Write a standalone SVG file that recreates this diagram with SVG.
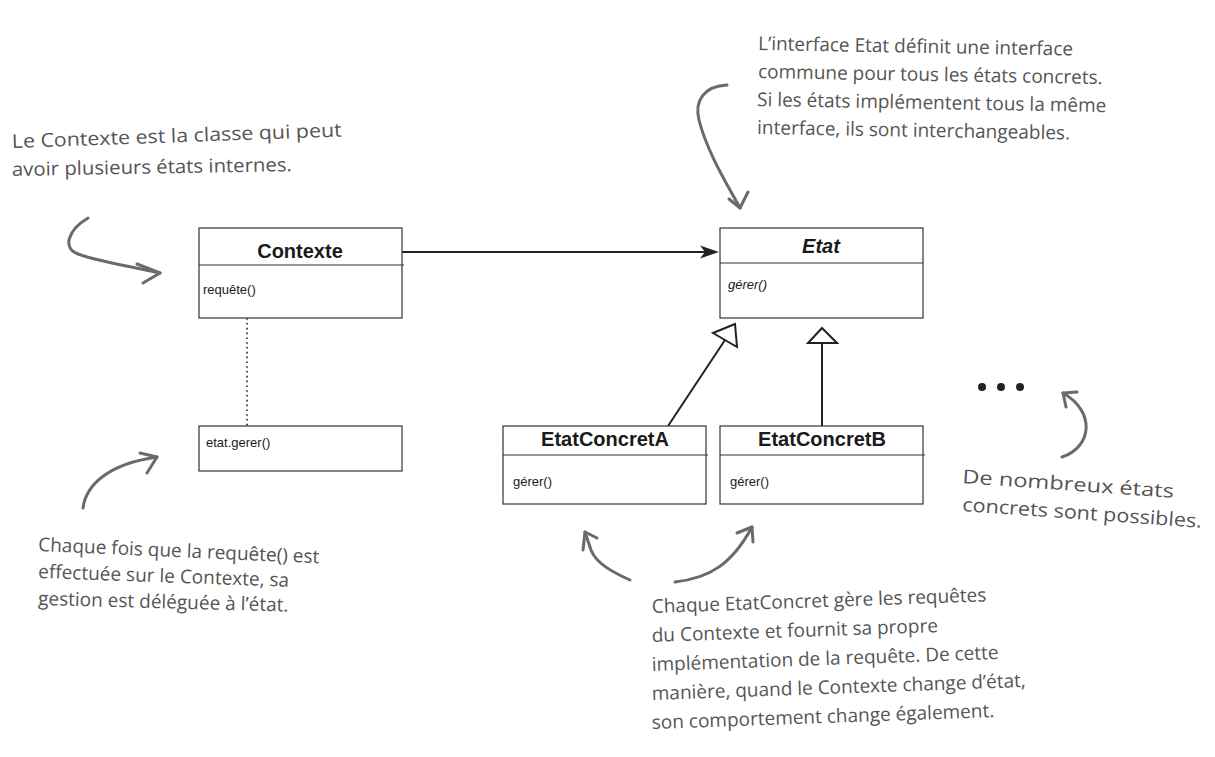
<svg xmlns="http://www.w3.org/2000/svg" width="1215" height="757" viewBox="0 0 1215 757">
<defs>
<style>
.box{fill:#fff;stroke:#333;stroke-width:1.2}
.div{stroke:#333;stroke-width:1.2}
.title{font-family:"Liberation Sans",Arial,sans-serif;font-weight:bold;font-size:20px;fill:#1a1a1a;text-anchor:middle}
.op{font-family:"Liberation Sans",Arial,sans-serif;font-size:13px;fill:#1a1a1a}
.note{font-family:"Open Sans","Noto Sans",sans-serif;font-size:19px;fill:#555}
.hand{fill:none;stroke:#6a6a6a;stroke-width:3;stroke-linecap:round;stroke-linejoin:round}
.conn{stroke:#222;stroke-width:2;fill:none}
</style>
</defs>
<rect width="1215" height="757" fill="#fff"/>

<g id="connectors">
<line class="conn" x1="402" y1="252" x2="708" y2="252"/>
<polygon points="719,252 700,245.5 705,252 700,258.5" fill="#222"/>
<line x1="247" y1="299" x2="247" y2="426" stroke="#222" stroke-width="1.6" stroke-dasharray="1.6 3.2"/>
<line class="conn" x1="668" y1="426" x2="725" y2="340"/>
<polygon points="735,324 737,347 713,333" fill="#fff" stroke="#222" stroke-width="2"/>
<line class="conn" x1="822" y1="426" x2="822" y2="343"/>
<polygon points="822,328 837,343 808,343" fill="#fff" stroke="#222" stroke-width="2"/>
</g>

<g id="Contexte">
<rect class="box" x="199" y="228" width="203" height="90"/>
<line class="div" x1="199" y1="265" x2="404" y2="265"/>
<text class="title" x="300" y="258">Contexte</text>
<text class="op" x="203" y="294">requête()</text>
</g>

<g id="Etat">
<rect class="box" x="720" y="228" width="203" height="90"/>
<line class="div" x1="720" y1="263" x2="923" y2="263"/>
<text class="title" x="821" y="253" font-style="italic">Etat</text>
<text class="op" x="728" y="289" font-style="italic">gérer()</text>
</g>

<g id="etatGerer">
<rect class="box" x="199" y="426" width="203" height="45"/>
<text class="op" x="206" y="447">etat.gerer()</text>
</g>

<g id="EtatConcretA">
<rect class="box" x="503" y="426" width="203" height="78"/>
<line class="div" x1="503" y1="455" x2="708" y2="455"/>
<text class="title" x="605" y="446">EtatConcretA</text>
<text class="op" x="513" y="486">gérer()</text>
</g>

<g id="EtatConcretB">
<rect class="box" x="720" y="426" width="203" height="78"/>
<line class="div" x1="720" y1="455" x2="925" y2="455"/>
<text class="title" x="822" y="446">EtatConcretB</text>
<text class="op" x="730" y="486">gérer()</text>
</g>

<g id="ellipsis" fill="#222">
<circle cx="982" cy="387" r="4"/>
<circle cx="1001" cy="387" r="4"/>
<circle cx="1020" cy="387" r="4"/>
</g>

<g id="notes">
<g id="note-contexte">
<text class="note" transform="rotate(-2 12 148)" x="12" y="148" textLength="330" lengthAdjust="spacingAndGlyphs">Le Contexte est la classe qui peut</text>
<text class="note" transform="rotate(-1 12 176)" x="12" y="176" textLength="280" lengthAdjust="spacingAndGlyphs">avoir plusieurs états internes.</text>
<path class="hand" d="M88,218 C68,230 62,248 78,254 C100,262 130,266 160,273"/>
<path class="hand" d="M137,264 L160,273 L143,283"/>
</g>
<g id="note-etat">
<text class="note" transform="rotate(1 758 50)" x="758" y="50">L’interface Etat définit une interface</text>
<text class="note" transform="rotate(1 758 78)" x="758" y="78">commune pour tous les états concrets.</text>
<text class="note" transform="rotate(1 757 106)" x="757" y="106">Si les états implémentent tous la même</text>
<text class="note" transform="rotate(1 757 134)" x="757" y="134">interface, ils sont interchangeables.</text>
<path class="hand" d="M727,85 C705,86 694,100 699,120 C707,152 728,186 740,208"/>
<path class="hand" d="M729,199 L740,208 L748,192"/>
</g>
<g id="note-gerer">
<text class="note" transform="rotate(2.5 38 551)" x="38" y="551">Chaque fois que la requête() est</text>
<text class="note" transform="rotate(2 38 578)" x="38" y="578">effectuée sur le Contexte, sa</text>
<text class="note" transform="rotate(1.5 38 605)" x="38" y="605">gestion est déléguée à l’état.</text>
<path class="hand" d="M83,508 C86,485 108,464 157,457"/>
<path class="hand" d="M140,453 L157,457 L147,473"/>
</g>
<g id="note-concret">
<text class="note" transform="rotate(-2 652 613)" x="652" y="613">Chaque EtatConcret gère les requêtes</text>
<text class="note" transform="rotate(-2 652 642)" x="652" y="642">du Contexte et fournit sa propre</text>
<text class="note" transform="rotate(-2 652 671)" x="652" y="671">implémentation de la requête. De cette</text>
<text class="note" transform="rotate(-2 652 700)" x="652" y="700">manière, quand le Contexte change d’état,</text>
<text class="note" transform="rotate(-2 652 729)" x="652" y="729">son comportement change également.</text>
<path class="hand" d="M630,580 C612,572 596,563 591,550 L585,532"/>
<path class="hand" d="M597,538 L585,532 L583,550"/>
<path class="hand" d="M675,582 C710,578 732,564 752,527"/>
<path class="hand" d="M737,533 L752,527 L753,542"/>
</g>
<g id="note-ellipsis">
<text class="note" transform="rotate(4 962 483)" x="962" y="483" font-size="21" textLength="212" lengthAdjust="spacingAndGlyphs">De nombreux états</text>
<text class="note" transform="rotate(4 962 511)" x="962" y="511" font-size="21" textLength="240" lengthAdjust="spacingAndGlyphs">concrets sont possibles.</text>
<path class="hand" d="M1062,457 C1092,447 1096,412 1063,393"/>
<path class="hand" d="M1077,392 L1063,393 L1066,407"/>
</g>
</g>
</svg>
